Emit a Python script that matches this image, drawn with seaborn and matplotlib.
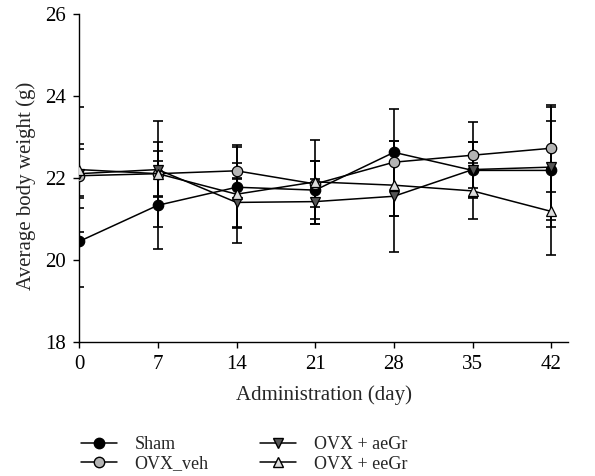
import numpy as np
import pandas as pd
import seaborn as sns
import matplotlib.pyplot as plt

days = [0, 7, 14, 21, 28, 35, 42]
groups = ['Sham', 'OVX_veh', 'OVX + aeGr', 'OVX + eeGr']

sham = [20.45, 21.33, 21.77, 21.70, 22.62, 22.18, 22.18]
sham_err = [1.10, 1.07, 0.99, 0.70, 0.28, 0.68, 1.20]
ovx_veh = [22.05, 22.10, 22.17, 21.85, 22.38, 22.55, 22.72]
ovx_veh_err = [0.78, 0.55, 0.20, 0.55, 1.30, 0.80, 1.06]
ae_gr = [22.10, 22.20, 21.40, 21.42, 21.55, 22.20, 22.26]
ae_gr_err = [0.60, 0.66, 0.60, 0.54, 1.35, 0.66, 1.47]
ee_gr = [22.20, 22.10, 21.60, 21.90, 21.82, 21.68, 21.18]
ee_gr_err = [1.53, 1.29, 1.20, 1.02, 0.75, 0.68, 1.07]

means = [sham, ovx_veh, ae_gr, ee_gr]
errs = [sham_err, ovx_veh_err, ae_gr_err, ee_gr_err]

df = pd.DataFrame({
    'day': days * 4,
    'weight': sum(means, []),
    'err': sum(errs, []),
    'group': [g for g in groups for _ in days],
})

sns.set_style('ticks')
plt.rcParams['font.family'] = ['Liberation Serif', 'DejaVu Serif']

fills = {'Sham': 'black', 'OVX_veh': '#b4b4b4', 'OVX + aeGr': '#555555', 'OVX + eeGr': '#dcdcdc'}
marks = {'Sham': 'o', 'OVX_veh': 'o', 'OVX + aeGr': 'v', 'OVX + eeGr': '^'}

fig = plt.figure(figsize=(5.95, 4.76), dpi=100)
ax = fig.add_axes([0.133, 0.2815, 0.822, 0.69])

for g in groups:
    sub = df[df['group'] == g]
    # error bars behind the markers
    ax.errorbar(sub['day'], sub['weight'], yerr=sub['err'], fmt='none',
                ecolor='black', elinewidth=1.2, capsize=3.8, capthick=1.2, zorder=1)
    sns.lineplot(data=sub, x='day', y='weight', color='black', lw=1.1,
                 marker=marks[g], markersize=7.5, markerfacecolor=fills[g],
                 markeredgecolor='black', markeredgewidth=0.9, ax=ax, zorder=3)

ax.set_xlim(0, 43.5)
ax.set_ylim(18, 26)
ax.set_xticks(days)
ax.set_yticks([18, 20, 22, 24, 26])
ax.set_xlabel('Administration (day)', fontsize=15, labelpad=8)
ax.set_ylabel('Average body weight (g)', fontsize=15)
ax.yaxis.set_label_coords(-0.088, 0.475)
ax.tick_params(direction='out', length=4.5, width=1, pad=5, labelsize=15, colors='black')
for s in ['left', 'bottom']:
    ax.spines[s].set_color('black')
    ax.spines[s].set_linewidth(1)
sns.despine(ax=ax)

handles = [plt.Line2D([], [], color='black', lw=1.1, marker=marks[g], markersize=7.5,
                      markerfacecolor=fills[g], markeredgecolor='black') for g in groups]
fig.legend(handles, groups, loc='lower left', bbox_to_anchor=(0.108, -0.027), ncol=2,
           frameon=False, fontsize=13, handlelength=2.0, handletextpad=1.0,
           columnspacing=2.85, labelspacing=0.15)

fig.savefig('out.png', dpi=100)
